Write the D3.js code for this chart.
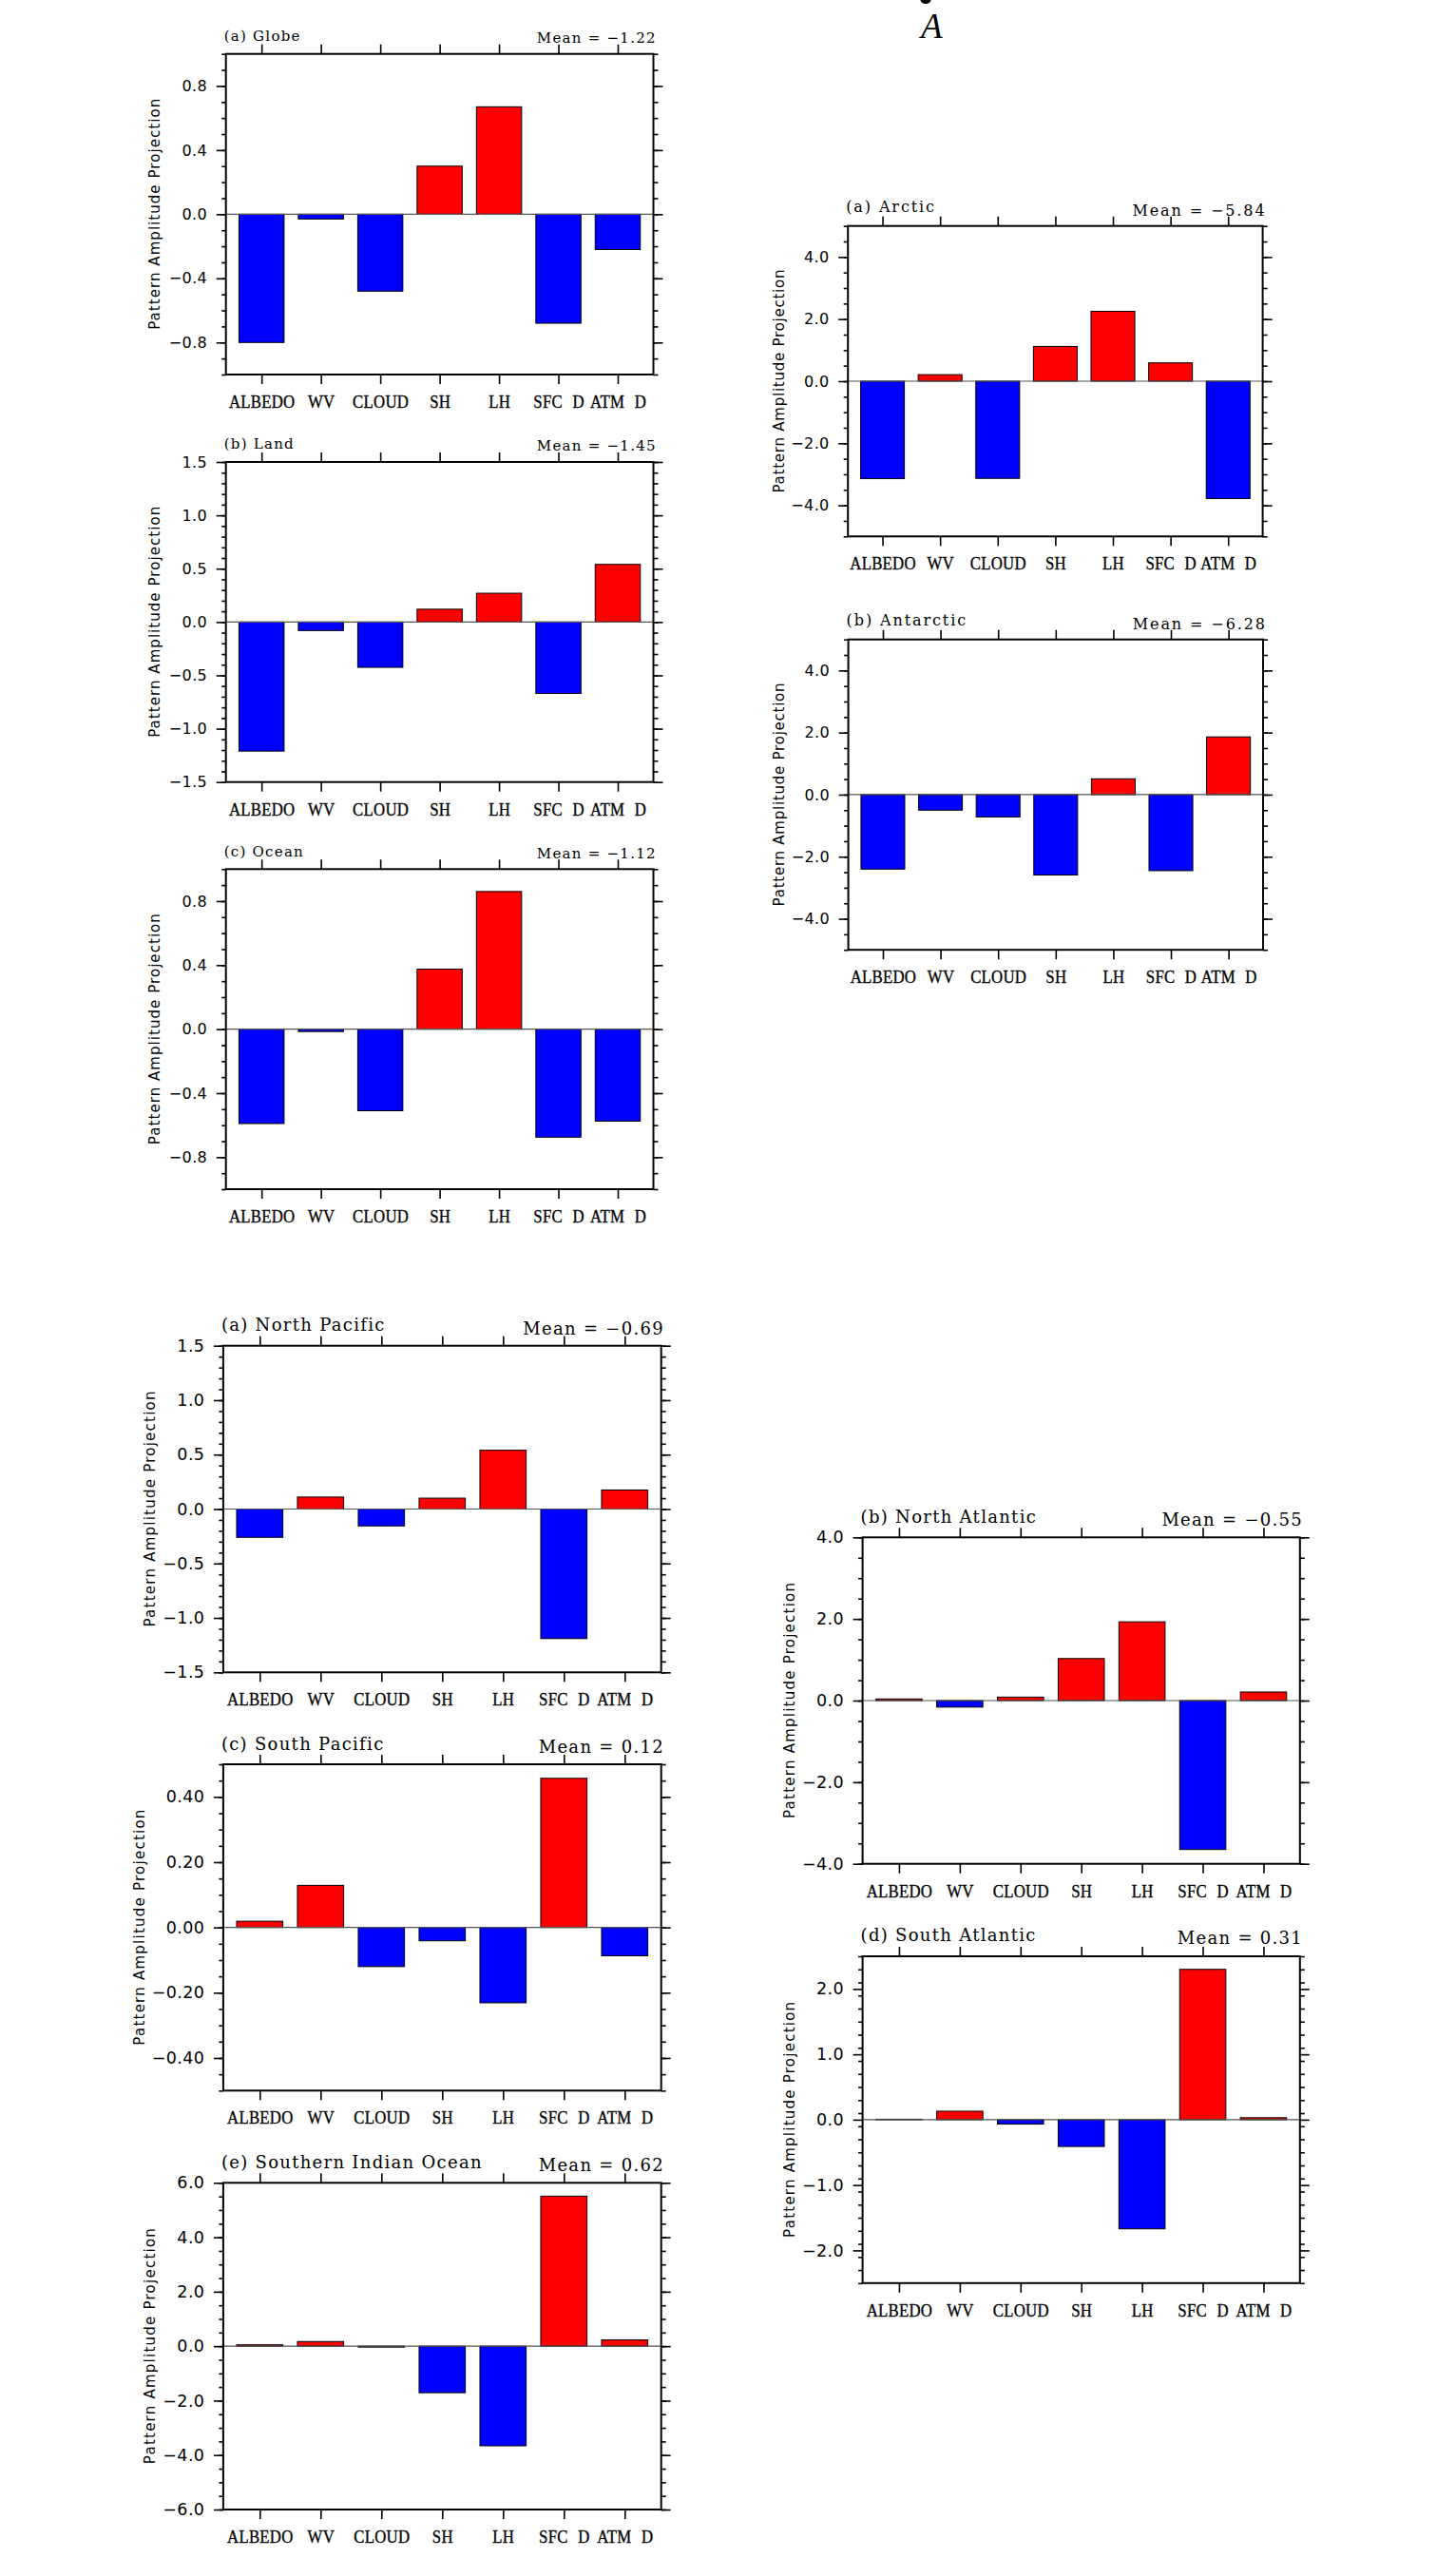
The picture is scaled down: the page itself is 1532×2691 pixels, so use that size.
<!DOCTYPE html>
<html><head><meta charset="utf-8">
<script src="https://cdn.jsdelivr.net/npm/d3@7"></script>
<style>body{margin:0;background:#fff}</style>
</head><body><svg id="c" width="1532" height="2691"></svg>
<script>
// ---------------- DATA ----------------
const categories = ["ALBEDO","WV","CLOUD","SH","LH","SFC D","ATM D"];
const panelTitles = ["(a) Globe","(b) Land","(c) Ocean","(a) Arctic","(b) Antarctic",
  "(a) North Pacific","(b) North Atlantic","(c) South Pacific","(d) South Atlantic","(e) Southern Indian Ocean"];
const panelMeans = ["-1.22","-1.45","-1.12","-5.84","-6.28","-0.69","-0.55","0.12","0.31","0.62"];
const globe          = [-0.80,-0.03,-0.48, 0.30, 0.67,-0.68,-0.22];
const land           = [-1.21,-0.08,-0.425,0.12, 0.27,-0.67, 0.54];
const ocean          = [-0.59,-0.015,-0.51,0.375,0.86,-0.675,-0.575];
const arctic         = [-3.14, 0.21,-3.13, 1.12, 2.25, 0.59,-3.78];
const antarctic      = [-2.40,-0.50,-0.72,-2.59, 0.51,-2.45, 1.86];
const northPacific   = [-0.26, 0.11,-0.155,0.10, 0.54,-1.19, 0.175];
const northAtlantic  = [ 0.04,-0.16, 0.085,1.03, 1.93,-3.65, 0.21];
const southPacific   = [ 0.019,0.129,-0.12,-0.041,-0.231,0.457,-0.087];
const southAtlantic  = [ 0.007,0.13,-0.068,-0.41,-1.67, 2.30, 0.03];
const southernIndian = [ 0.05, 0.17,-0.035,-1.71,-3.66, 5.51, 0.23];
const panelValues = [globe,land,ocean,arctic,antarctic,northPacific,northAtlantic,southPacific,southAtlantic,southernIndian];
const yDomains   = [[-1,1],[-1.5,1.5],[-1,1],[-5,5],[-5,5],[-1.5,1.5],[-4,4],[-0.5,0.5],[-2.5,2.5],[-6,6]];
const majorSteps = [0.4,0.5,0.4,2,2,0.5,2,0.2,1,2];
const minorSteps = [0.1,0.1,0.1,0.5,0.5,0.1,0.5,0.05,0.2,0.5];
const tickFormats = [".1f",".1f",".1f",".1f",".1f",".1f",".1f",".2f",".1f",".1f"];
const yAxisTitle = "Pattern Amplitude Projection";

// ---------------- LAYOUT (positions / styles) ----------------
const styleA = {title:15, ls:1.25, tick:16, ylen:243};
const styleB = {title:16, ls:1.9, tick:16, ylen:235};
const styleC = {title:18, ls:1.3, tick:17.5, ylen:248};
const layout = [
 {l:237.7,r:687.5,t:56.7, b:394,   ty:42.7, my:45,    yl:162.3, s:styleA},
 {l:237.7,r:687.5,t:486,  b:822.7, ty:471.7,my:474,   yl:162.3, s:styleA},
 {l:237.7,r:687.5,t:914.3,b:1251,  ty:900.7,my:903.3, yl:162.3, s:styleA},
 {l:892.2,r:1328.6,t:237.7,b:564.3,ty:222.7,my:226.7, yl:819.2, s:styleB},
 {l:892.6,r:1329, t:672.7,b:999.2, ty:658.3,my:661.7, yl:819.2, s:styleB},
 {l:234.9,r:695.7,t:1415.7,b:1759.3,ty:1400,my:1404,  yl:157.7, s:styleC},
 {l:907.6,r:1367.8,t:1617.3,b:1960.7,ty:1601.7,my:1605,yl:830,  s:styleC},
 {l:234.9,r:695.7,t:1856, b:2199.3,ty:1840.7,my:1844, yl:146.1, s:styleC},
 {l:907.6,r:1367.8,t:2058,b:2401.8,ty:2041.7,my:2045, yl:830.7, s:styleC},
 {l:234.9,r:695.7,t:2296.3,b:2640, ty:2280.7,my:2284, yl:157.7, s:styleC}
];

const svg = d3.select("#c");
svg.append("rect").attr("width",1532).attr("height",2691).attr("fill","#fff");

// header fragment
svg.append("ellipse").attr("cx",974).attr("cy",0).attr("rx",5.5).attr("ry",4).attr("fill","#000");
svg.append("text").attr("x",969).attr("y",40).attr("font-family","Liberation Serif")
  .attr("font-style","italic").attr("font-size",37).attr("fill","#000").text("A");

const idx = d3.range(1, categories.length+1);
function rangeSteps(d0,d1,step){
  const n = Math.round((d1-d0)/step);
  return d3.range(n+1).map(k=>+(d0+k*step).toFixed(6));
}

panelValues.forEach((vals,i)=>{
  const L = layout[i], S = L.s;
  const x = d3.scaleLinear().domain([0.4, categories.length+0.6]).range([L.l, L.r]);
  const y = d3.scaleLinear().domain(yDomains[i]).range([L.b, L.t]);
  const g = svg.append("g");
  const bw = (x(2)-x(1))*0.76;
  const [d0,d1] = yDomains[i];
  const m0 = Math.ceil(d0/majorSteps[i]-1e-9)*majorSteps[i];
  const majors = rangeSteps(m0, d1, majorSteps[i]).filter(v=>v<=d1+1e-9);
  const minors = rangeSteps(d0, d1, minorSteps[i]);
  const fmt = d3.format(tickFormats[i]);

  // bars
  g.selectAll("rect.bar").data(vals).join("rect").attr("class","bar")
    .attr("x",(d,j)=>x(idx[j])-bw/2)
    .attr("y",d=>y(Math.max(0,d)))
    .attr("width",bw)
    .attr("height",d=>Math.max(0.5,Math.abs(y(d)-y(0))))
    .attr("fill",d=>d>=0?"#ff0000":"#0000ff")
    .attr("stroke","#000").attr("stroke-width",1);

  // zero line
  g.append("line").attr("x1",L.l).attr("x2",L.r).attr("y1",y(0)).attr("y2",y(0))
    .attr("stroke","#555").attr("stroke-width",1.2);

  const tickStyle = sel=>{
    sel.select(".domain").remove();
    sel.selectAll(".tick line").attr("stroke","#000").attr("stroke-width",1.6);
  };
  // left axis
  g.append("g").attr("transform",`translate(${L.l},0)`)
    .call(d3.axisLeft(y).tickValues(minors).tickSize(4.5).tickFormat(""))
    .call(tickStyle);
  g.append("g").attr("transform",`translate(${L.l},0)`)
    .call(d3.axisLeft(y).tickValues(majors).tickSize(10).tickPadding(9.5).tickFormat(fmt))
    .call(tickStyle)
    .call(a=>a.selectAll("text").attr("font-family","DejaVu Sans").attr("font-size",S.tick)
      .attr("letter-spacing",0.4).attr("fill","#000"));
  // right axis
  g.append("g").attr("transform",`translate(${L.r},0)`)
    .call(d3.axisRight(y).tickValues(minors).tickSize(5).tickFormat(""))
    .call(tickStyle);
  g.append("g").attr("transform",`translate(${L.r},0)`)
    .call(d3.axisRight(y).tickValues(majors).tickSize(10).tickFormat(""))
    .call(tickStyle);
  // top axis
  g.append("g").attr("transform",`translate(0,${L.t})`)
    .call(d3.axisTop(x).tickValues(idx).tickSize(10).tickFormat(""))
    .call(tickStyle);
  // bottom axis with category labels
  g.append("g").attr("transform",`translate(0,${L.b})`)
    .call(d3.axisBottom(x).tickValues(idx).tickSize(10).tickFormat(d=>categories[d-1]))
    .call(tickStyle)
    .call(a=>a.selectAll("text").attr("y",35).attr("dy",null)
      .attr("font-family","Liberation Serif").attr("font-size",19.5).attr("fill","#000")
      .attr("stroke","#000").attr("stroke-width",0.35)
      .attr("letter-spacing",0.3).attr("word-spacing",7).attr("transform","scale(0.86,1)"));

  // frame
  g.append("rect").attr("x",L.l).attr("y",L.t).attr("width",L.r-L.l).attr("height",L.b-L.t)
    .attr("fill","none").attr("stroke","#000").attr("stroke-width",2);

  // titles
  g.append("text").attr("x",L.l-2).attr("y",L.ty).attr("font-family","DejaVu Serif")
    .attr("font-size",S.title).attr("letter-spacing",S.ls).attr("fill","#000").text(panelTitles[i]);
  g.append("text").attr("x",L.r+2+S.ls).attr("y",L.my).attr("text-anchor","end").attr("font-family","DejaVu Serif")
    .attr("font-size",S.title).attr("letter-spacing",S.ls).attr("fill","#000")
    .text("Mean = " + panelMeans[i].replace("-","\u2212"));

  // y axis title
  const cy = (L.t+L.b)/2;
  g.append("text").attr("transform",`translate(${L.yl+5.5},${cy}) rotate(-90)`)
    .attr("text-anchor","middle").attr("font-family","DejaVu Sans").attr("font-size",15)
    .attr("textLength",S.ylen).attr("lengthAdjust","spacing").attr("fill","#000").text(yAxisTitle);
});
</script></body></html>
